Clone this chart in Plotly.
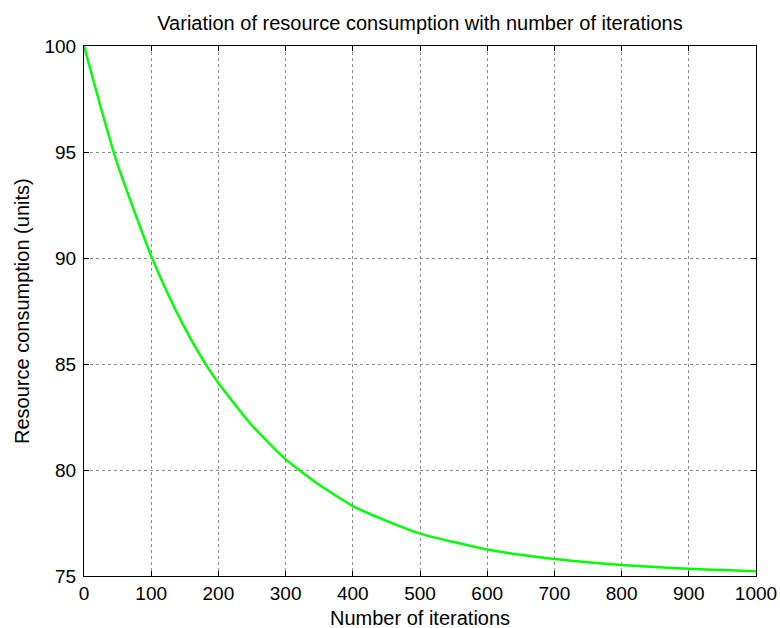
import plotly.graph_objects as go

iterations = [0, 25, 50, 75, 100, 125, 150, 175, 200, 250, 300, 350, 400, 450, 500,
              550, 600, 650, 700, 750, 800, 850, 900, 950, 1000]
consumption = [100.0, 97.1, 94.4, 92.2, 90.1, 88.3, 86.7, 85.3, 84.1, 82.1, 80.5, 79.3,
               78.3, 77.6, 77.0, 76.6, 76.25, 76.0, 75.8, 75.65, 75.52, 75.42, 75.34,
               75.28, 75.22]

x_ticks = list(range(0, 1001, 100))
y_ticks = [75, 80, 85, 90, 95, 100]

FONT = "Liberation Sans, Arial, sans-serif"
TICK_SIZE = 19
LABEL_SIZE = 20

fig = go.Figure()
fig.add_trace(go.Scatter(
    x=iterations, y=consumption, mode="lines",
    line=dict(color="#00FF00", width=2.5, shape="spline", smoothing=0.5),
    showlegend=False,
))

axis_common = dict(
    showline=True, linecolor="black", linewidth=1, mirror="ticks",
    ticks="inside", ticklen=5, tickcolor="black", tickwidth=1,
    showgrid=True, gridcolor="#8c8c8c", griddash="dot", gridwidth=1,
    zeroline=False, automargin=False,
    tickfont=dict(family=FONT, size=TICK_SIZE, color="black"),
)

fig.update_xaxes(range=[0, 1000], tickvals=x_ticks, **axis_common)
fig.update_yaxes(range=[75, 100], tickvals=y_ticks, ticklabelstandoff=3, **axis_common)

H = 628
fig.update_layout(
    width=780, height=H,
    margin=dict(l=84, r=24, t=46, b=52, autoexpand=False),
    paper_bgcolor="white", plot_bgcolor="white",
    title=dict(text="Variation of resource consumption with number of iterations",
               x=0.5, xanchor="center", xref="paper",
               y=1 - 23 / H, yanchor="middle", yref="container",
               font=dict(family=FONT, size=LABEL_SIZE, color="black")),
    annotations=[
        dict(text="Number of iterations", xref="paper", yref="paper",
             x=0.5, y=-(618 - 576) / (576 - 46), xanchor="center", yanchor="middle",
             showarrow=False, font=dict(family=FONT, size=LABEL_SIZE, color="black")),
        dict(text="Resource consumption (units)", xref="paper", yref="paper",
             x=-(84 - 22) / (756 - 84), y=0.5, xanchor="center", yanchor="middle",
             textangle=-90, showarrow=False,
             font=dict(family=FONT, size=LABEL_SIZE, color="black")),
    ],
)

fig.write_html(
    "out.html",
    config={"displayModeBar": False},
    post_script="document.body.style.margin='0';document.body.style.overflow='hidden';",
)
